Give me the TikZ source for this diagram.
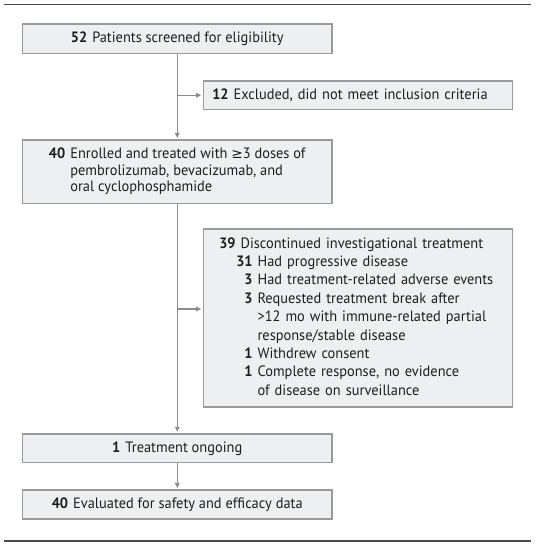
\documentclass[tikz,border=0pt]{standalone}
\usepackage{fontspec}
\setmainfont{PT Sans}[FakeStretch=0.96]
\newfontfamily\geqfont{DejaVu Sans}[Scale=0.92]
\usetikzlibrary{positioning,arrows.meta}
\definecolor{boxfill}{HTML}{EDEFF1}
\definecolor{boxline}{HTML}{9A9A9A}
\definecolor{flowline}{HTML}{8C8C8C}
\definecolor{rulecol}{HTML}{4A4A4A}
\definecolor{txt}{HTML}{1E1E1E}
\tikzset{
  blk/.style={draw=boxline, fill=boxfill, line width=1.2pt, minimum width=309.5pt,
              inner sep=0pt, text=txt, font=\fontsize{15}{16.7}\selectfont},
  flow/.style={-{Triangle[length=5pt,width=4.5pt]}, draw=flowline, line width=1.3pt,
               shorten >=1.5pt},
}

\begin{document}
\begin{tikzpicture}[x=1pt, y=-1pt]
        \useasboundingbox (0,0) rectangle (544,545);
        \draw[rulecol, line width=1.6pt] (4,4.7) -- (531,4.7);
        \draw[rulecol, line width=1.6pt] (4,540.7) -- (531,540.7);
        \node[blk, minimum height=29.5pt] (scr) at (177.25,38.75) {\textbf{52}\hspace{5pt}Patients screened for eligibility};
        \node[blk, minimum height=28.5pt, inner xsep=9pt, text width=291.5pt, align=left] (exc) at (358,95.25) {\textbf{12}\hspace{5pt}Excluded, did not meet inclusion criteria};
        \node[blk, minimum height=63.3pt] (enr) at (177.25,171.7) {\begin{tabular}{@{}r@{\hspace{5pt}}l@{}}
          \textbf{40} & Enrolled and treated with {\geqfont ≥}3 doses of\\
                      & pembrolizumab, bevacizumab, and\\
                      & oral cyclophosphamide
        \end{tabular}};
        \node[blk, minimum height=178pt, inner xsep=16pt, text width=277.5pt, align=left,
              font=\fontsize{15}{18.4}\selectfont] (disc) at (358,318) {\raisebox{-3pt}{\begin{tabular}{@{}r@{\hspace{5pt}}r@{\hspace{5pt}}l@{}}
          \textbf{39} & \multicolumn{2}{@{}l@{}}{Discontinued investigational treatment}\\
          & \makebox[12pt][r]{\textbf{31}} & Had progressive disease\\
          & \makebox[12pt][r]{\textbf{3}} & Had treatment-related adverse events\\
          & \makebox[12pt][r]{\textbf{3}} & Requested treatment break after\\
          & & >12 mo with immune-related partial\\
          & & response/stable disease\\
          & \makebox[12pt][r]{\textbf{1}} & Withdrew consent\\
          & \makebox[12pt][r]{\textbf{1}} & Complete response, no evidence\\
          & & of disease on surveillance
        \end{tabular}}};
        \node[blk, minimum height=28.7pt] (ong) at (177.25,448.3) {\textbf{1}\hspace{5pt}Treatment ongoing};
        \node[blk, minimum height=29pt] (eval) at (177.25,504.5) {\textbf{40}\hspace{5pt}Evaluated for safety and efficacy data};
        \coordinate (b1) at (scr.south |- exc.west);
        \coordinate (b2) at (177.25,309);
        \draw[flow] (scr) -- (enr);
        \draw[flow] (b1) -- (exc);
        \draw[flow] (enr) -- (ong);
        \draw[flow] (b2) -- (b2 -| disc.west);
        \draw[flow] (ong) -- (eval);
      \end{tikzpicture}
\end{document}
